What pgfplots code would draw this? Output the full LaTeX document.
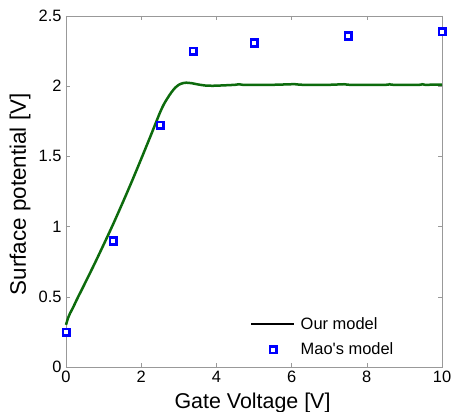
\documentclass[border=0pt]{standalone}
\usepackage{pgfplots}
\pgfplotsset{compat=1.18}
\usepackage{fontspec}
\setmainfont{Liberation Sans}
\definecolor{ourgreen}{rgb}{0.05,0.42,0.05}
\definecolor{axgrey}{rgb}{0.6,0.6,0.6}
\begin{document}
\begin{tikzpicture}
\path[use as bounding box] (-66bp,-45bp) rectangle (388bp,367bp);
\begin{axis}[
  scale only axis,
  width=376bp, height=351bp,
  xmin=0, xmax=10, ymin=0, ymax=2.5,
  xtick={0,2,4,6,8,10},
  ytick={0,0.5,1,1.5,2,2.5},
  yticklabels={0,0.5,1,1.5,2,2.5},
  xticklabels={0,2,4,6,8,10},
  tick align=inside,
  major tick length=4bp,
  axis line style={axgrey},
  every tick/.style={axgrey},
  tick label style={font=\fontsize{16.5}{18}\selectfont, text=black},
  /pgf/number format/assume math mode=true,
  xticklabel style={yshift=-1bp},
  yticklabel style={xshift=-1bp},
  xlabel={Gate Voltage [V]},
  ylabel={Surface potential [V]},
  xlabel style={font=\fontsize{21.5}{24}\selectfont, at={(axis description cs:0.496,-0.118)}, anchor=base},
  ylabel style={font=\fontsize{22.5}{24}\selectfont, at={(axis description cs:-0.1064,0.492)}, anchor=base},
  legend style={at={(0.4894,0.142)}, anchor=north west, draw=none, fill=none,
    font=\fontsize{16.5}{18}\selectfont, row sep=11.7bp, column sep=5bp,
    inner sep=0pt, nodes={inner sep=0pt}},
  legend cell align=left,
  clip=false,
]
\addlegendimage{legend image code/.code={\draw[black, line width=2.5bp] (0bp,0bp) -- (43bp,0bp);}}
\addlegendentry{Our model}
\addlegendimage{legend image code/.code={%
  \path[draw=none, fill=none] (0bp,-1bp) rectangle (43bp,1bp);
  \draw[blue, line width=0.4bp, mark=square*, mark size=4.2bp, mark options={fill=blue}] plot coordinates {(21.5bp,0bp)};
  \draw[white, line width=0.2bp, mark=square*, mark size=1.5bp, mark options={fill=white}] plot coordinates {(21.5bp,0bp)};}}
\addlegendentry{Mao\textquotesingle s model}
\addplot[ourgreen, line width=2.5bp, smooth, tension=0.4, forget plot] coordinates {
(0,0.30) (0.05,0.345) (0.1,0.378) (0.2,0.43) (0.28,0.476) (0.5,0.594)
(0.75,0.730) (1.0,0.871) (1.25,1.015) (1.5,1.166) (1.75,1.321) (2.0,1.482)
(2.25,1.646) (2.49,1.806) (2.6,1.87) (2.7,1.915) (2.8,1.955) (2.9,1.988)
(3.0,2.010) (3.1,2.021) (3.2,2.025) (3.35,2.021) (3.5,2.013) (3.7,2.005)
(3.9,2.003) (4.2,2.006) (4.5,2.010) (4.6,2.014)
(4.7,2.010) (5.0,2.010) (5.5,2.010) (6.0,2.014) (6.1,2.014) (6.3,2.010)
(7.0,2.010) (7.4,2.014) (7.55,2.010) (8.5,2.010) (8.6,2.014) (8.7,2.010)
(9.4,2.010) (9.47,2.014) (9.55,2.010) (10,2.012)
};
\addplot[only marks, blue, mark=square*, mark size=4.2bp, line width=0.4bp,
  mark options={fill=blue}, forget plot] coordinates {
(0,0.25) (1.25,0.90) (2.5,1.723) (3.375,2.25) (5,2.31) (7.5,2.36) (10,2.39)
};
\addplot[only marks, white, mark=square*, mark size=1.5bp, line width=0.2bp,
  mark options={fill=white}, forget plot] coordinates {
(0,0.25) (1.25,0.90) (2.5,1.723) (3.375,2.25) (5,2.31) (7.5,2.36) (10,2.39)
};
\end{axis}
\end{tikzpicture}
\end{document}
